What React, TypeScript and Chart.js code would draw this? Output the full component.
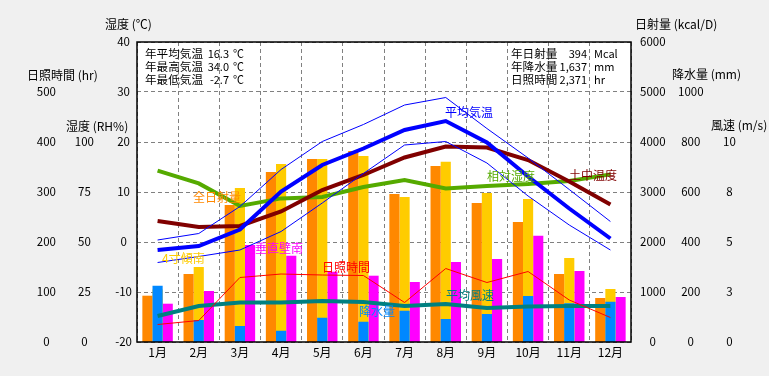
import React, { useEffect, useRef } from 'react';
import { Chart, registerables } from 'chart.js';
Chart.register(...registerables);

const months = ['1月', '2月', '3月', '4月', '5月', '6月', '7月', '8月', '9月', '10月', '11月', '12月'];

// 日射量 (kcal/D)
const solarHoriz = [926, 1360, 2740, 3400, 3660, 3820, 2960, 3520, 2780, 2400, 1360, 880];
const solarTilt = [1050, 1500, 3080, 3560, 3660, 3720, 2900, 3606, 2980, 2860, 1680, 1060];
const solarVert = [766, 1020, 1940, 1726, 1406, 1326, 1200, 1600, 1660, 2126, 1420, 900];
// 降水量 (mm)
const precip = [225, 88, 64, 45, 97, 81, 125, 92, 112, 184, 155, 161];
// 気温 (℃)
const avgTemp = [-1.6, -0.8, 2.5, 10.1, 15.4, 18.7, 22.4, 24.2, 19.9, 13.1, 6.7, 0.7];
const maxTemp = [0.4, 1.7, 7.1, 14.5, 20.1, 23.5, 27.4, 28.9, 22.7, 16.8, 10.5, 4.1];
const minTemp = [-4.1, -2.9, -1.6, 2.1, 7.8, 13.7, 19.4, 20.1, 15.8, 9.2, 3.4, -1.6];
const soilTemp = [4.2, 3.0, 3.2, 6.1, 10.4, 13.4, 16.9, 19.1, 18.9, 16.4, 12.1, 7.5];
// 相対湿度 (RH%)
const humidity = [85.7, 79.3, 68, 71.8, 72.5, 77.5, 81, 76.8, 78, 79, 80.5, 83.8];
// 日照時間 (hr)
const sunshine = [35, 43, 129, 136, 134, 133, 79, 147, 119, 141, 84, 49];
// 平均風速 (m/s)
const wind = [1.3, 1.8, 1.97, 1.97, 2.05, 2.0, 1.8, 1.9, 1.7, 1.77, 1.8, 1.8];

const leftInfoLabels = ['年平均気温', '年最高気温', '年最低気温'];
const leftInfoValues = ['16.3', '34.0', '-2.7'];
const rightInfoLabels = ['年日射量', '年降水量', '日照時間'];
const rightInfoValues = ['394', '1,637', '2,371'];
const rightInfoUnits = ['Mcal', 'mm', 'hr'];

const FONT = "'Noto Sans CJK JP', 'Noto Sans', sans-serif";

const seriesLabels = [
  { text: '平均気温', color: '#0000ff', x: 445, y: 112 },
  { text: '土中温度', color: '#800000', x: 569, y: 175 },
  { text: '相対湿度', color: '#55aa00', x: 487, y: 176 },
  { text: '全日射量', color: '#ff8800', x: 193, y: 197 },
  { text: '4寸傾南', color: '#ffcc00', x: 162, y: 258 },
  { text: '垂直壁南', color: '#ff00ff', x: 255, y: 248 },
  { text: '日照時間', color: '#ff0000', x: 322, y: 267 },
  { text: '降水量', color: '#0088ff', x: 359, y: 311 },
  { text: '平均風速', color: '#008080', x: 446, y: 295 },
];

const axisTitles = [
  { text: '湿度 (℃)', x: 105, y: 24 },
  { text: '日照時間 (hr)', x: 27, y: 75 },
  { text: '湿度 (RH%)', x: 66, y: 126 },
  { text: '日射量 (kcal/D)', x: 635, y: 24 },
  { text: '降水量 (mm)', x: 672, y: 74 },
  { text: '風速 (m/s)', x: 711, y: 125 },
];

export default function App() {
  const ref = useRef<HTMLCanvasElement>(null);
  useEffect(() => {
    if (!ref.current) return;
    const decor = {
      id: 'decor',
      beforeDraw(chart: any) {
        const { ctx, chartArea: a, width, height } = chart;
        ctx.save();
        ctx.fillStyle = '#f0f0f0';
        ctx.fillRect(0, 0, width, height);
        ctx.fillStyle = '#ffffff';
        ctx.fillRect(a.left, a.top, a.right - a.left, a.bottom - a.top);
        ctx.restore();
      },
      afterDraw(chart: any) {
        const { ctx, chartArea: a } = chart;
        ctx.save();
        ctx.strokeStyle = '#000';
        ctx.lineWidth = 1.5;
        ctx.strokeRect(a.left, a.top, a.right - a.left, a.bottom - a.top);
        ctx.textBaseline = 'middle';
        ctx.fillStyle = '#000';
        ctx.textAlign = 'left';
        ctx.font = '12px ' + FONT;
        axisTitles.forEach((t) => ctx.fillText(t.text, t.x, t.y));
        const ys = [54, 67, 80];
        const lab = '11.6px ' + FONT;
        const num = '11px ' + FONT;
        leftInfoLabels.forEach((l, i) => {
          ctx.font = lab;
          ctx.textAlign = 'left';
          ctx.fillText(l, 145, ys[i]);
          ctx.font = num;
          ctx.textAlign = 'right';
          ctx.fillText(leftInfoValues[i], 229, ys[i]);
          ctx.textAlign = 'left';
          ctx.fillText('℃', 233, ys[i]);
        });
        rightInfoLabels.forEach((l, i) => {
          ctx.font = lab;
          ctx.textAlign = 'left';
          ctx.fillText(l, 511, ys[i]);
          ctx.font = num;
          ctx.textAlign = 'right';
          ctx.fillText(rightInfoValues[i], 587, ys[i]);
          ctx.textAlign = 'left';
          ctx.fillText(rightInfoUnits[i], 594, ys[i]);
        });
        ctx.font = '12px ' + FONT;
        seriesLabels.forEach((s) => {
          ctx.fillStyle = s.color;
          ctx.textAlign = 'left';
          ctx.fillText(s.text, s.x, s.y);
        });
        ctx.restore();
      },
    };

    const tickFont = { family: FONT, size: 11.5 };
    const yBase = (pos: string, weight: number, min: number, max: number, step: number, pad: number, width: number, cb: (v: number) => string) => ({
      type: 'linear',
      position: pos,
      weight,
      min,
      max,
      grid: { display: false, drawTicks: false },
      border: { display: false },
      ticks: { stepSize: step, padding: pad, crossAlign: 'center', color: '#000', font: tickFont, callback: (v: any) => cb(Number(v)), autoSkip: false },
      afterFit: (s: any) => { s.width = width; },
    });

    const lineDs = (label: string, data: number[], color: string, w: number, yAxisID: string, order: number) => ({
      type: 'line', label, data, borderColor: color, backgroundColor: color, borderWidth: w, pointRadius: 0, yAxisID, xAxisID: 'x', order, tension: 0, fill: false,
    });

    const barDs = (label: string, data: number[], color: string, yAxisID: string, order: number, grouped: boolean, catPct: number) => ({
      type: 'bar', label, data, backgroundColor: color, xAxisID: 'x', yAxisID, order, grouped, categoryPercentage: catPct, barPercentage: 1, borderWidth: 0,
    });

    const chart = new Chart(ref.current, {
      type: 'bar',
      data: {
        labels: months,
        datasets: [
          lineDs('平均気温', avgTemp, '#0000ff', 4, 'yTemp', 0),
          lineDs('最高気温', maxTemp, '#0000ff', 1, 'yTemp', 1),
          lineDs('最低気温', minTemp, '#0000ff', 1, 'yTemp', 1),
          lineDs('土中温度', soilTemp, '#800000', 4, 'yTemp', 2),
          lineDs('相対湿度', humidity, '#55aa00', 4, 'yHum', 3),
          lineDs('日照時間', sunshine, '#ff0000', 1, 'ySun', 3),
          lineDs('平均風速', wind, '#008080', 4, 'yWind', 3),
          barDs('降水量', precip, '#0088ff', 'yPrecip', 8, false, 0.2467),
          barDs('全日射量', solarHoriz, '#ff8800', 'ySolar', 10, true, 0.74),
          barDs('4寸傾南', solarTilt, '#ffcc00', 'ySolar', 10, true, 0.74),
          barDs('垂直壁南', solarVert, '#ff00ff', 'ySolar', 10, true, 0.74),
        ] as any,
      },
      options: {
        responsive: false,
        animation: false,
        layout: { padding: { left: 0, right: 0, top: 42, bottom: 0 } },
        plugins: { legend: { display: false }, tooltip: { enabled: false } },
        scales: {
          x: {
            type: 'category',
            position: 'bottom',
            offset: true,
            grid: { display: true, offset: true, color: '#808080', lineWidth: 1, drawTicks: false },
            border: { display: false, dash: [4, 3] },
            ticks: { color: '#000', font: { family: FONT, size: 12 }, padding: 3, maxRotation: 0, autoSkip: false },
            afterFit: (s: any) => { s.height = 34; },
          },
          yTemp: {
            ...yBase('left', 0, -20, 40, 10, 5, 37, (v) => String(v)),
            grid: { display: true, color: '#808080', lineWidth: 1, drawTicks: false },
            border: { display: false, dash: [4, 3] },
          },
          yHum: yBase('left', 1, 0, 150, 25, 6, 34, (v) => (v <= 100 ? String(v) : '')),
          ySun: yBase('left', 2, 0, 600, 100, 10, 66, (v) => (v <= 500 ? String(v) : '')),
          ySolar: yBase('right', 0, 0, 6000, 1000, 9, 40, (v) => String(v)),
          yPrecip: yBase('right', 1, 0, 1200, 200, 7, 40, (v) => (v <= 1000 ? String(v) : '')),
          yWind: yBase('right', 2, 0, 15, 2.5, 12, 58, (v) => (v <= 10 ? String(Math.round(v)) : '')),
        } as any,
      },
      plugins: [decor],
    });
    return () => chart.destroy();
  }, []);
  return (
    <div style={{ position: 'absolute', left: 0, top: 0, width: 769, height: 376 }}>
      <canvas ref={ref} width={769} height={376} style={{ display: 'block' }} />
    </div>
  );
}
